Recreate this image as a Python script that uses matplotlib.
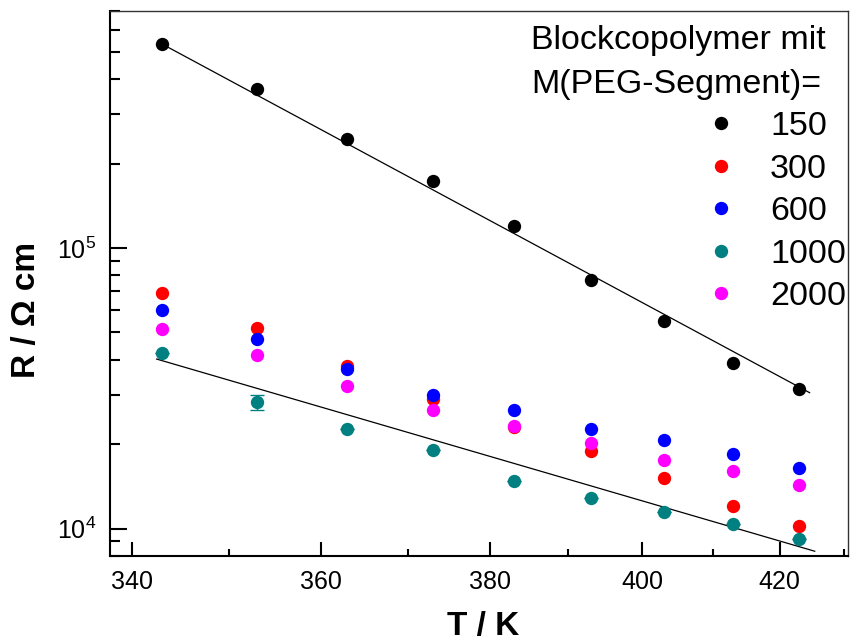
import numpy as np
import matplotlib
matplotlib.use("Agg")
import matplotlib.pyplot as plt
from matplotlib.ticker import FixedLocator, NullFormatter, LogLocator

plt.rcParams['font.family'] = ['Liberation Sans', 'DejaVu Sans']
plt.rcParams['mathtext.fontset'] = 'custom'
plt.rcParams['mathtext.rm'] = 'Liberation Sans'
plt.rcParams['mathtext.default'] = 'regular'

# temperatures (K)
T = [343, 353, 363, 373, 383, 393, 403, 413, 423]

# resistance R (Ohm cm) for M(PEG-Segment)
r150 = [533000, 368600, 244500, 173700, 120100, 77100, 54800, 38800, 31400]
r300 = [68900, 51900, 37900, 29050, 23090, 18960, 15190, 12070, 10250]
r600 = [60100, 47250, 37000, 30000, 26500, 22700, 20600, 18500, 16500]
r1000 = [42100, 28200, 22700, 19100, 14830, 12890, 11500, 10420, 9140]
r2000 = [51450, 41700, 32300, 26540, 23280, 20250, 17610, 16090, 14350]
err1000 = [0, 1700, 0, 0, 0, 0, 0, 0, 0]

# straight Arrhenius fit lines (end points)
fitT150 = [343, 424.6]
fit150 = [535000, 30500]
fitT1000 = [342.5, 425.4]
fit1000 = [40200, 8300]

names = ['150', '300', '600', '1000', '2000']
colors = ['black', '#ff0000', '#0000ff', '#008080', '#ff00ff']
series = [r150, r300, r600, r1000, r2000]


def fwd(t):
    t = np.asarray(t, float)
    with np.errstate(divide='ignore', invalid='ignore'):
        return np.where(t > 0, -1000.0 / np.where(t > 0, t, 1), -1e9)


def inv(v):
    v = np.asarray(v, float)
    with np.errstate(divide='ignore', invalid='ignore'):
        return np.where(v < 0, -1000.0 / np.where(v < 0, v, -1), 1e9)


fig = plt.figure(figsize=(8.5, 6.42), dpi=100)
ax = fig.add_axes([0.1294, 0.1344, 0.8682, 0.8485])

# Arrhenius axis: linear in 1/T, labelled in T
ax.set_xlim(1000 / 2.96, 1000 / 2.322)
ax.set_xscale('function', functions=(fwd, inv))
ax.set_yscale('log')
ax.set_ylim(8000, 7.0e5)

ax.plot(fitT150, fit150, color='black', lw=0.9, zorder=2)
ax.plot(fitT1000, fit1000, color='black', lw=0.9, zorder=2)

handles = []
for name, c, r in zip(names, colors, series):
    if name == '1000':
        yerr = np.array(err1000)
        ax.errorbar(T, r, yerr=yerr, fmt='none', ecolor=c, capsize=5, lw=1, zorder=3)
    h, = ax.plot(T, r, 'o', color=c, ms=9.6, mec='none', zorder=3, label=name)
    handles.append(h)

ax.set_xlim(1000 / 2.96, 1000 / 2.322)
ax.set_ylim(8000, 7.0e5)

ax.xaxis.set_major_locator(FixedLocator([340, 360, 380, 400, 420]))
ax.xaxis.set_minor_locator(FixedLocator([350, 370, 390, 410, 430]))
ax.xaxis.set_major_formatter(plt.FuncFormatter(lambda v, p: '%d' % round(v)))
ax.xaxis.set_minor_formatter(NullFormatter())
ax.yaxis.set_major_locator(LogLocator(base=10))
ax.yaxis.set_minor_locator(LogLocator(base=10, subs=np.arange(2, 10)))
ax.yaxis.set_minor_formatter(NullFormatter())

ax.tick_params(axis='both', which='both', direction='in', labelsize=18, width=1.5,
               top=False, right=False)
ax.tick_params(axis='x', which='major', length=10, pad=10)
ax.tick_params(axis='x', which='minor', length=5)
ax.tick_params(axis='y', which='major', length=12, pad=10)
ax.tick_params(axis='y', which='minor', length=7)
for s in ['left', 'bottom']:
    ax.spines[s].set_linewidth(1.5)
for s in ['top', 'right']:
    ax.spines[s].set_linewidth(1.0)
    ax.spines[s].set_color('#333333')

fig.text(27 / 850, 1 - 310 / 642, 'R / \u03a9 cm', rotation=90, fontsize=24,
         fontweight='bold', ha='center', va='center')
fig.text(483 / 850, 1 - 626 / 642, 'T / K', fontsize=24, fontweight='bold',
         ha='center', va='center')

fig.text(531 / 850, 1 - 41 / 642, 'Blockcopolymer mit', fontsize=24.5, ha='left', va='center')
fig.text(531 / 850, 1 - 84 / 642, 'M(PEG-Segment)=', fontsize=24.5, ha='left', va='center')
ax.legend(handles=handles, loc='upper left', bbox_to_anchor=(687 / 850, 1 - 111 / 642),
          bbox_transform=fig.transFigure, frameon=False, fontsize=24.5, borderpad=0,
          borderaxespad=0, handletextpad=0.44, labelspacing=0.34, handlelength=2.0)

fig.savefig('out.png', dpi=100)
